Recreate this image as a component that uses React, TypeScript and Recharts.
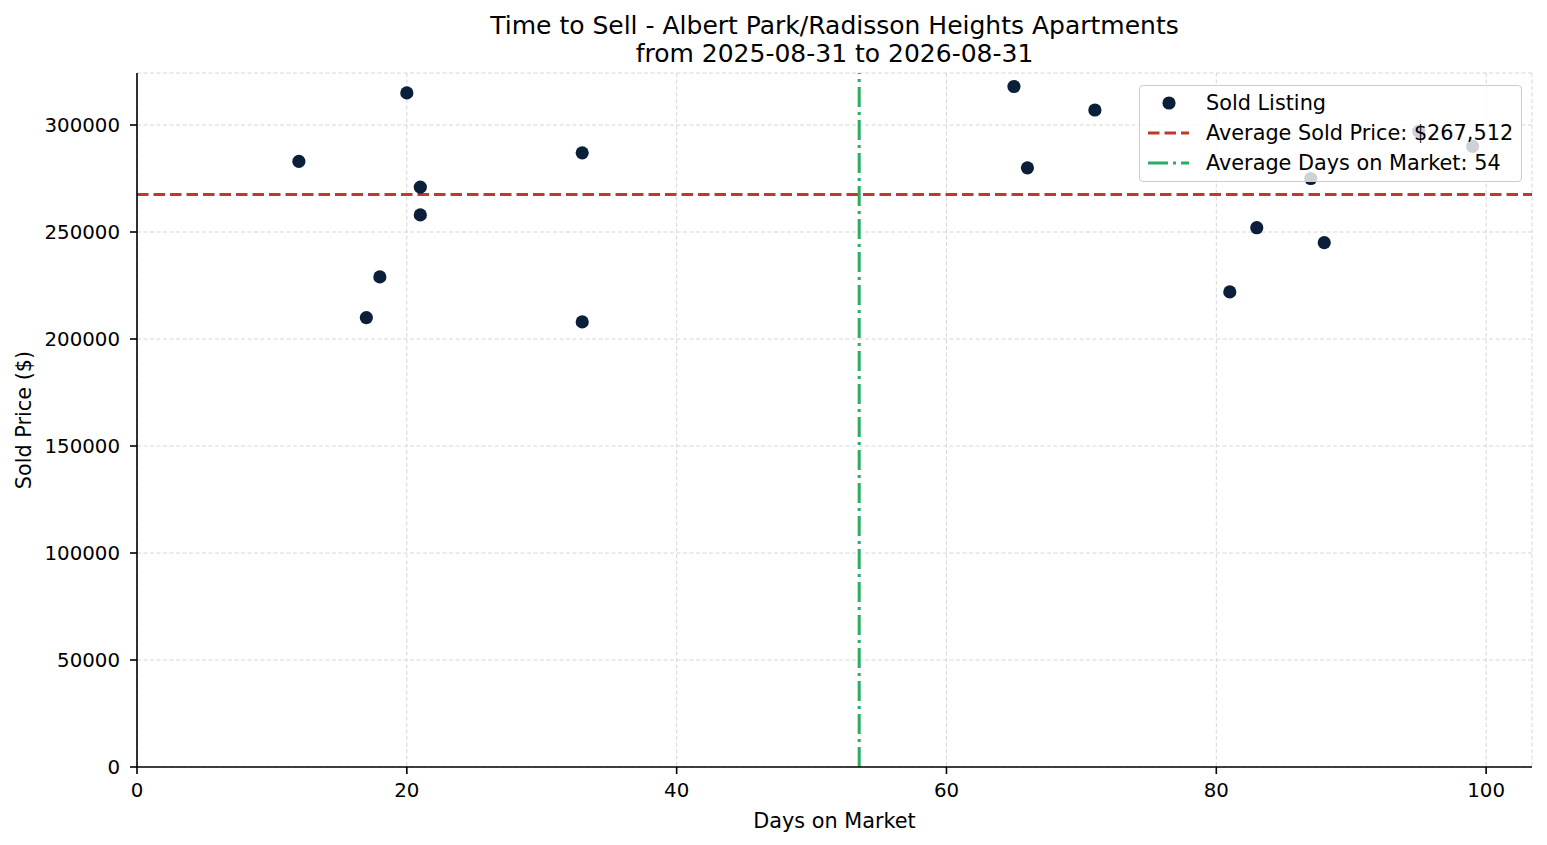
import {
  ScatterChart,
  Scatter,
  XAxis,
  YAxis,
  CartesianGrid,
  ReferenceLine,
} from "recharts";

const DAYS = [12, 17, 18, 20, 21, 21, 33, 33, 65, 66, 71, 81, 83, 87, 88, 95, 99];
const PRICES = [
  283000, 210000, 229000, 315000, 271000, 258000, 287000, 208000, 318000, 280000,
  307000, 222000, 252000, 275000, 245000, 297000, 290000,
];
const X_TICKS = [0, 20, 40, 60, 80, 100];
const Y_TICKS = [0, 50000, 100000, 150000, 200000, 250000, 300000];
const AVG_PRICE = 267512;
const AVG_DAYS = 53.53;

const points = DAYS.map((d, i) => ({ days: d, price: PRICES[i] }));

const FONT = "'DejaVu Sans', sans-serif";
const NAVY = "#0b1f3b";
const RED = "#c0392b";
const GREEN = "#27ae60";
const TICK_SIZE = 19.8;
const TEXT = 20.8;
const RED_DASH = "11.5 5";
const GREEN_DASH = "20 5 3 5";

const Dot = (props: any) => <circle cx={props.cx} cy={props.cy} r={6.6} fill={NAVY} />;

export default function App() {
  const tick = { fill: "#000", fontSize: TICK_SIZE, fontFamily: FONT };
  return (
    <div style={{ position: "absolute", left: 0, top: 0, width: 1547, height: 845, background: "#fff", fontFamily: FONT }}>
      <div style={{ position: "absolute", left: 0, width: 1669, top: 12, textAlign: "center", fontSize: 25, lineHeight: "28px", color: "#000" }}>
        Time to Sell - Albert Park/Radisson Heights Apartments
        <br />
        from 2025-08-31 to 2026-08-31
      </div>
      <ScatterChart width={1547} height={845} margin={{ top: 73, right: 15, bottom: 0, left: 0 }}>
        <CartesianGrid stroke="#d2d2d2" strokeDasharray="4 2.5" strokeWidth={0.9} />
        <XAxis
          type="number"
          dataKey="days"
          domain={[0, 103.4]}
          ticks={X_TICKS}
          height={78}
          tick={tick}
          tickSize={7}
          tickMargin={9}
          stroke="#000"
          strokeWidth={1.6}
          allowDataOverflow
          label={{ value: "Days on Market", position: "insideBottom", offset: 17, fill: "#000", fontSize: TEXT, fontFamily: FONT }}
        />
        <YAxis
          type="number"
          dataKey="price"
          domain={[0, 324300]}
          ticks={Y_TICKS}
          width={137}
          tick={tick}
          tickSize={7}
          tickMargin={10}
          stroke="#000"
          strokeWidth={1.6}
          allowDataOverflow
          label={{ value: "Sold Price ($)", angle: -90, position: "insideLeft", offset: 24, fill: "#000", fontSize: TEXT, fontFamily: FONT, style: { textAnchor: "middle" } }}
        />
        <ReferenceLine y={AVG_PRICE} stroke={RED} strokeWidth={3} strokeDasharray={RED_DASH} />
        <ReferenceLine x={AVG_DAYS} stroke={GREEN} strokeWidth={3} strokeDasharray={GREEN_DASH} />
        <Scatter data={points} shape={Dot} isAnimationActive={false} />
      </ScatterChart>
      <div
        style={{
          position: "absolute",
          left: 1139,
          top: 85,
          width: 383,
          height: 97,
          boxSizing: "border-box",
          border: "1.5px solid #cccccc",
          borderRadius: 4,
          background: "rgba(255,255,255,0.8)",
          fontSize: TEXT,
          color: "#000",
        }}
      >
        {[
          { label: "Sold Listing", kind: "dot" },
          { label: "Average Sold Price: $267,512", kind: "dash" },
          { label: "Average Days on Market: 54", kind: "dashdot" },
        ].map((item, i) => (
          <div key={item.label} style={{ position: "absolute", left: 0, top: 5 + i * 30, height: 24, display: "flex", alignItems: "center" }}>
            <svg width={60} height={24} style={{ marginLeft: 6, flexShrink: 0 }}>
              {item.kind === "dot" && <circle cx={23} cy={12} r={6.6} fill={NAVY} />}
              {item.kind === "dash" && (
                <line x1={2} x2={43} y1={12} y2={12} stroke={RED} strokeWidth={3} strokeDasharray={RED_DASH} />
              )}
              {item.kind === "dashdot" && (
                <line x1={2} x2={43} y1={12} y2={12} stroke={GREEN} strokeWidth={3} strokeDasharray={GREEN_DASH} />
              )}
            </svg>
            <span style={{ whiteSpace: "nowrap" }}>{item.label}</span>
          </div>
        ))}
      </div>
    </div>
  );
}
